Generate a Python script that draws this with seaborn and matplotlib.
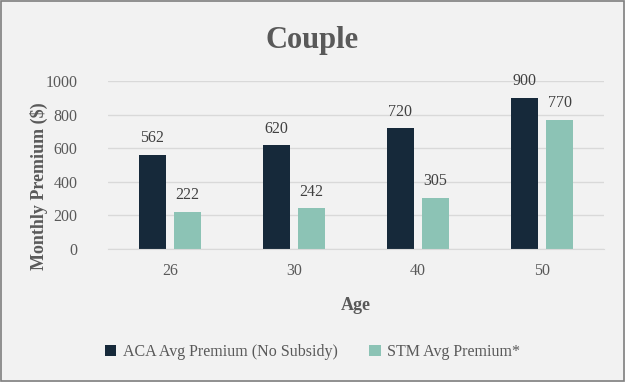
import matplotlib.pyplot as plt
import seaborn as sns
import pandas as pd
from matplotlib.patches import Rectangle

ages = ['26', '30', '40', '50']
aca = [562, 620, 720, 900]
stm = [222, 242, 305, 770]
series_names = ['ACA Avg Premium (No Subsidy)', 'STM Avg Premium*']
colors = ['#16293A', '#8CC3B5']

sns.set_style('white')
plt.rcParams['font.family'] = ['Liberation Serif', 'DejaVu Serif']

df = pd.DataFrame({
    'Age': ages * 2,
    'Premium': aca + stm,
    'Series': [series_names[0]] * 4 + [series_names[1]] * 4,
})

bg = '#F2F2F2'
txt = '#595959'

fig = plt.figure(figsize=(6.25, 3.82), dpi=100, facecolor=bg)
ax = fig.add_axes([0.1728, 0.348, 0.7936, 0.44])
ax.set_facecolor(bg)

sns.barplot(data=df, x='Age', y='Premium', hue='Series', palette=colors,
            width=0.57, gap=0.24, ax=ax, saturation=1, legend=True, linewidth=0)

for c in ax.containers:
    ax.bar_label(c, padding=6, fontsize=11.5, color='#404040')

ax.set_ylim(0, 1000)
ax.set_yticks(range(0, 1001, 200))
ax.set_xlim(-0.5, 3.5)
ax.yaxis.grid(True, color='#D9D9D9', linewidth=1)
ax.set_axisbelow(True)
for s in ['top', 'right', 'left']:
    ax.spines[s].set_visible(False)
ax.spines['bottom'].set_color('#D9D9D9')
ax.tick_params(axis='y', length=0, pad=22, labelsize=11.5, labelcolor=txt)
ax.tick_params(axis='x', length=0, pad=10, labelsize=11.5, labelcolor=txt)

ax.set_xlabel('Age', fontsize=13, fontweight='bold', color=txt, labelpad=13)
ax.set_ylabel('Monthly Premium ($)', fontsize=13, fontweight='bold', color=txt)
ax.yaxis.set_label_coords(-0.12, 0.375)

fig.suptitle('Couple', fontsize=22, fontweight='bold', color=txt, y=0.932)

leg = ax.legend(loc='center', bbox_to_anchor=(0.5, 0.078), bbox_transform=fig.transFigure,
                ncol=2, frameon=False, fontsize=11.5, handlelength=0.7, handleheight=0.7,
                handletextpad=0.4, columnspacing=2.0)
for t in leg.get_texts():
    t.set_color(txt)

fig.patches.append(Rectangle((0.002, 0.003), 0.996, 0.994, transform=fig.transFigure,
                             fill=False, edgecolor='#7F7F7F', linewidth=1.2))

fig.savefig('out.png', dpi=100, facecolor=bg)
plt.close()
